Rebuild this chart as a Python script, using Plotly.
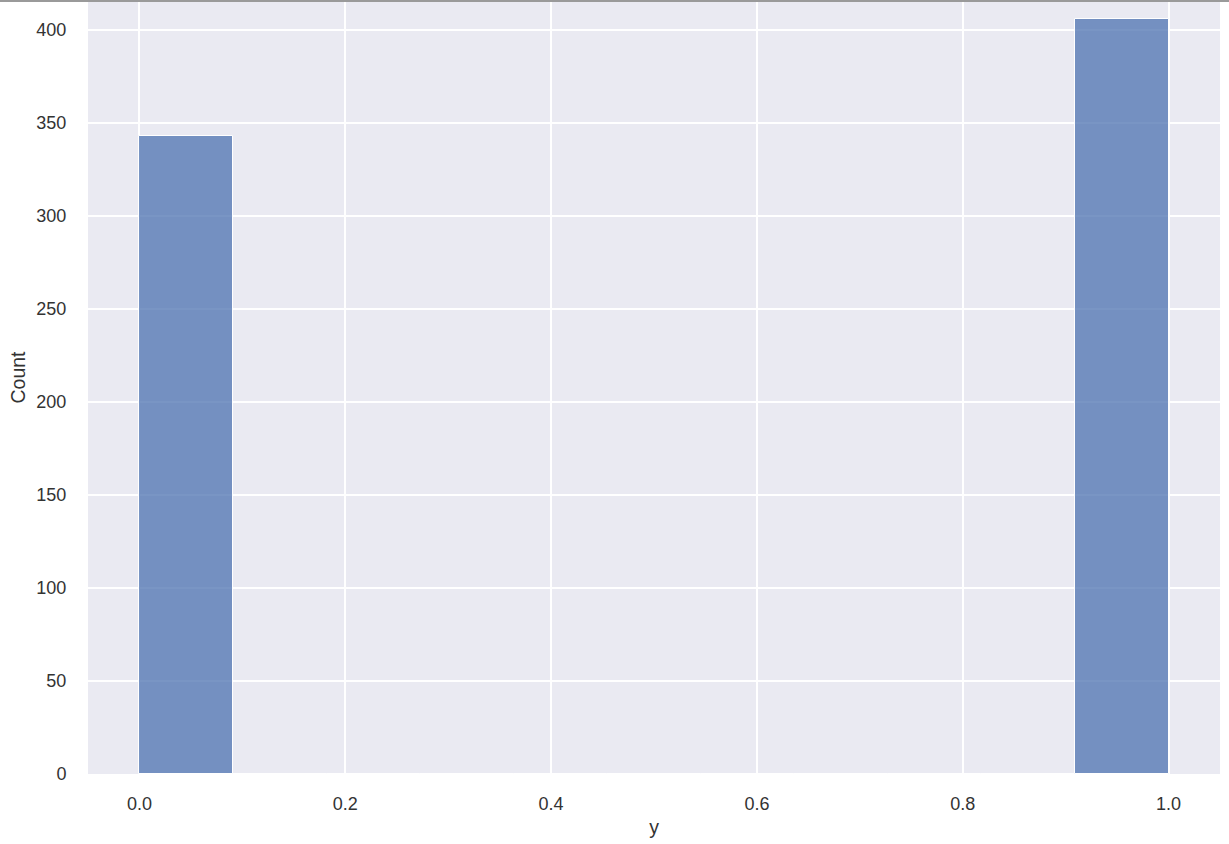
import plotly.graph_objects as go

# Data: histogram of variable "y" (binary 0/1), 11 bins between 0 and 1
bin_start = 0.0
bin_end = 1.0
n_bins = 11
counts = [343, 0, 0, 0, 0, 0, 0, 0, 0, 0, 406]
x_ticks = [0.0, 0.2, 0.4, 0.6, 0.8, 1.0]
x_tick_labels = ["0.0", "0.2", "0.4", "0.6", "0.8", "1.0"]
y_ticks = [0, 50, 100, 150, 200, 250, 300, 350, 400]

width = (bin_end - bin_start) / n_bins
centers = [bin_start + width * (i + 0.5) for i in range(n_bins)]

# The reference is a cropped screenshot: the axes extend ~19px above the visible top.
crop_top = 19
fig_h = 844 + crop_top
plot_h = fig_h - 70

fig = go.Figure()
fig.add_trace(go.Bar(
    x=centers,
    y=counts,
    width=[width] * n_bins,
    marker=dict(color="rgba(76,114,176,0.75)", line=dict(color="white", width=1)),
    showlegend=False,
))

font_family = "Liberation Sans, Arial, sans-serif"
fig.update_layout(
    width=1229, height=fig_h,
    margin=dict(l=88, r=9, t=0, b=70),
    paper_bgcolor="white",
    plot_bgcolor="#EAEAF2",
    bargap=0,
    font=dict(family=font_family, size=18, color="#333333"),
    xaxis=dict(
        range=[-0.05, 1.05],
        tickvals=x_ticks, ticktext=x_tick_labels,
        showgrid=True, gridcolor="white", gridwidth=1.5,
        zeroline=False, showline=False,
        ticks="outside", ticklen=13, tickcolor="rgba(0,0,0,0)",
        tickfont=dict(size=18),
        title=dict(text="y", font=dict(size=19.5), standoff=7),
    ),
    yaxis=dict(
        range=[0, max(counts) * 1.05],
        tickvals=y_ticks,
        showgrid=True, gridcolor="white", gridwidth=1.5,
        zeroline=False, showline=False,
        ticks="outside", ticklen=17, tickcolor="rgba(0,0,0,0)",
        tickfont=dict(size=18),
        title=dict(text="Count", font=dict(size=19.5), standoff=5),
    ),
)
line_y = (plot_h - (crop_top + 1)) / plot_h
fig.add_shape(type="line", xref="paper", yref="paper", x0=-0.1, x1=1.1,
              y0=line_y, y1=line_y, layer="above",
              line=dict(color="#9a9a9a", width=2))
fig.write_html("out.html", config={"displayModeBar": False},
               post_script="document.body.style.margin='0';document.body.style.marginTop='-%dpx';document.body.style.overflow='hidden';" % crop_top)
